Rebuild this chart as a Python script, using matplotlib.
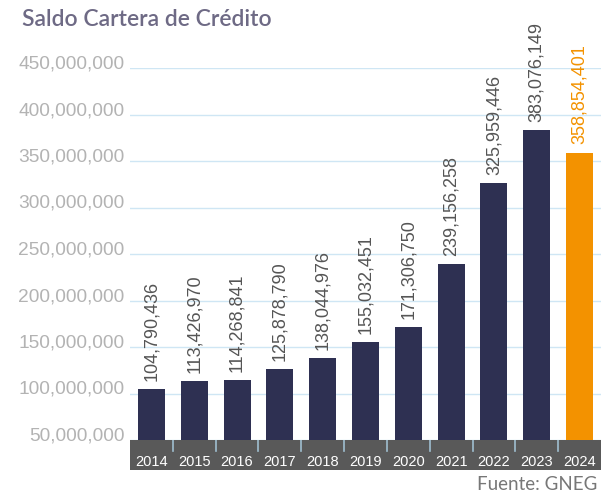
import matplotlib
matplotlib.use("Agg")
import matplotlib.pyplot as plt
import matplotlib.transforms as mtransforms
from matplotlib.ticker import FuncFormatter

years = ["2014", "2015", "2016", "2017", "2018", "2019", "2020", "2021", "2022", "2023", "2024"]
values = [104790436, 113426970, 114268841, 125878790, 138044976, 155032451,
          171306750, 239156258, 325959446, 383076149, 358854401]
yticks = [50000000, 100000000, 150000000, 200000000, 250000000, 300000000,
          350000000, 400000000, 450000000]

W, H = 608, 495
fig = plt.figure(figsize=(W / 100, H / 100), dpi=100)
fig.patch.set_facecolor("white")

x0, x1 = 130, 601
ytop, ybot = 68, 440
ax = fig.add_axes([x0 / W, 1 - ybot / H, (x1 - x0) / W, (ybot - ytop) / H])
xs = list(range(len(years)))
colors = ["#2e3052"] * (len(years) - 1) + ["#f39200"]
ax.set_xlim(-0.5, len(years) - 0.5)
ax.set_ylim(50000000, 450000000)
ax.set_yticks(yticks)
ax.yaxis.set_major_formatter(FuncFormatter(lambda v, p: f"{int(v):,}"))
ax.grid(axis="y", color="#cfe6f4", lw=1)
ax.set_axisbelow(True)
for s in ax.spines.values():
    s.set_visible(False)
ax.tick_params(axis="y", length=0, pad=4, labelsize=13.8, labelcolor="#b3b3b3")
ax.tick_params(axis="x", length=0, labelbottom=False)
offset = mtransforms.ScaledTranslation(0, 6 / 100, fig.dpi_scale_trans)
for lab in ax.get_yticklabels():
    lab.set_fontfamily("Liberation Sans")
    lab.set_transform(lab.get_transform() + offset)

ax.bar(xs, values, width=0.63, color=colors, zorder=3)
lab_colors = ["#555555"] * (len(years) - 1) + ["#f39200"]
for x, v, c in zip(xs, values, lab_colors):
    ax.annotate(f"{v:,}", (x, v), xytext=(0, 6), textcoords="offset points",
                rotation=90, ha="center", va="bottom", fontsize=13,
                color=c, family="Liberation Sans", annotation_clip=False)

# year band
bax = fig.add_axes([x0 / W, 1 - 470 / H, (x1 - x0) / W, 30 / H])
bax.set_facecolor("#595959")
bax.set_xlim(-0.5, len(years) - 0.5)
bax.set_ylim(0, 1)
bax.set_xticks([])
bax.set_yticks([])
for s in bax.spines.values():
    s.set_visible(False)
for i in range(len(years) - 1):
    bax.plot([i + 0.5, i + 0.5], [1, 0.62], color="#9fbfd0", lw=1.2)
for x, y in zip(xs, years):
    bax.text(x, 0.25, y, ha="center", va="center", color="white",
             fontsize=10.5, family="Liberation Sans")

fig.text(22 / W, 1 - 19 / H, "Saldo Cartera de Crédito", ha="left", va="center",
         fontsize=16.5, color="#6e6a85", family="Lato", fontweight="semibold")
fig.text(597 / W, 1 - 484 / H, "Fuente: GNEG", ha="right", va="center",
         fontsize=13.5, color="#777777", family="Lato")

fig.savefig("out.png", dpi=100)
